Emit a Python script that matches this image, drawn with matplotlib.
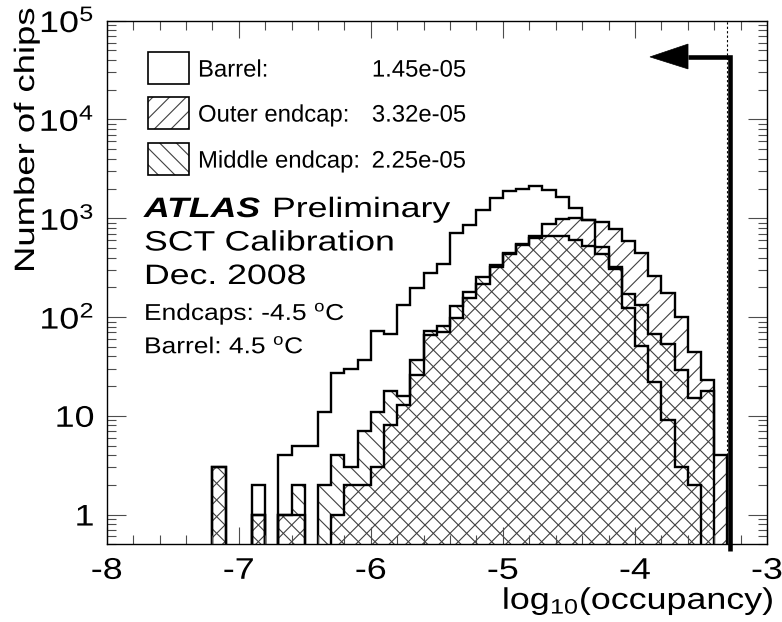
import numpy as np
import matplotlib
matplotlib.use("Agg")
import matplotlib.pyplot as plt
from matplotlib.patches import Rectangle, Polygon
from matplotlib.patheffects import AbstractPathEffect
from matplotlib.transforms import Affine2D
from matplotlib.ticker import FixedLocator, FixedFormatter, MultipleLocator, LogLocator, NullFormatter

plt.rcParams['font.family'] = ['Liberation Sans', 'DejaVu Sans']
plt.rcParams['mathtext.fontset'] = 'custom'
plt.rcParams['mathtext.rm'] = 'Liberation Sans'
plt.rcParams['mathtext.it'] = 'Liberation Sans:italic'
plt.rcParams['mathtext.bf'] = 'Liberation Sans:bold'
plt.rcParams['hatch.linewidth'] = 0.8

# ---- data: chips per 0.1-wide bin of log10(occupancy), from -8 to -3 ----
bin_edges = np.round(np.arange(-8.0, -3.0 + 1e-9, 0.1), 2)

barrel_counts = [0, 0, 0, 0, 0, 0, 0, 0, 0, 0,
                 0, 2, 0, 4, 5, 5, 11, 27, 30, 37,
                 72, 68, 131, 198, 281, 341, 712, 864, 1225, 1607,
                 1875, 1983, 2140, 1950, 1650, 1280, 950, 515, 320, 124,
                 51, 22, 9, 3, 2, 0, 0, 0, 0, 0]

outer_counts = [0, 0, 0, 0, 0, 0, 0, 0, 3, 0,
                0, 1, 0, 1, 1, 0, 0, 1, 2, 2,
                3, 8, 13, 26, 65, 70, 98, 157, 214, 320,
                430, 540, 630, 883, 986, 1009, 970, 919, 770, 586,
                447, 260, 176, 99, 44, 23, 4, 0, 0, 0]

middle_counts = [0, 0, 0, 0, 0, 0, 0, 0, 3, 0,
                 0, 1, 0, 1, 2, 0, 2, 4, 3, 7,
                 11, 18, 16, 37, 72, 81, 129, 179, 256, 334,
                 447, 555, 660, 658, 658, 609, 521, 430, 303, 170,
                 132, 68, 53, 29, 15, 18, 0, 0, 0, 0]

series_labels = ["Barrel:", "Outer endcap:", "Middle endcap:"]
mean_occupancy = ["1.45e-05", "3.32e-05", "2.25e-05"]
series_hatches = [None, "//", "\\\\"]

x_ticks = [-8, -7, -6, -5, -4, -3]
x_tick_labels = ["-8", "-7", "-6", "-5", "-4", "-3"]
y_ticks = [1, 10, 100, 1000, 10000, 100000]
y_tick_labels = ["1", "10", "$10^{2}$", "$10^{3}$", "$10^{4}$", "$10^{5}$"]

occupancy_limit = np.log10(5e-4)   # SCT specification


class Widen(AbstractPathEffect):
    """Draw glyphs stretched along the text direction."""
    def __init__(self, sx, anchor="left"):
        super().__init__()
        self.sx = sx
        self.anchor = anchor

    def draw_path(self, renderer, gc, tpath, affine, rgbFace=None):
        ext = tpath.get_extents()
        if self.anchor == "left":
            cx = 0.0
        elif self.anchor == "right":
            cx = ext.x1
        else:
            cx = 0.5 * (ext.x0 + ext.x1)
        stretch = Affine2D().translate(-cx, 0).scale(self.sx, 1.0).translate(cx, 0)
        renderer.draw_path(gc, tpath, stretch + affine, rgbFace)


W, H = 782, 622
fig = plt.figure(figsize=(W / 100, H / 100), dpi=100)


def fx(px):
    return px / W


def fy(py):
    return 1 - py / H


ax_left, ax_right, ax_top, ax_bottom = 106.7, 767.0, 20.7, 544.3
ax = fig.add_axes([fx(ax_left), fy(ax_bottom), (ax_right - ax_left) / W, (ax_bottom - ax_top) / H])
ax.set_yscale("log")
ax.set_xlim(-8, -3)
ax.set_ylim(0.5, 1e5)

floor = 1e-3


def to_plot(vals):
    v = np.asarray(vals, dtype=float)
    return np.where(v > 0, v, floor)


# hatched fills of the two endcap distributions
for counts, hatch in [(outer_counts, "//"), (middle_counts, "\\\\")]:
    ax.stairs(to_plot(counts), bin_edges, baseline=floor, fill=True,
              facecolor="none", edgecolor="0.25", hatch=hatch, linewidth=0)

# histogram outlines
for counts in [barrel_counts, outer_counts, middle_counts]:
    ax.stairs(to_plot(counts), bin_edges, baseline=floor, fill=False,
              edgecolor="black", linewidth=1.7)

# occupancy limit marker
ax.axvline(occupancy_limit, color="black", lw=0.8, ls=(0, (2, 2)))
arm_x = occupancy_limit + 0.022
arm_y = 4.3e4
head_base = -3.598
ax.plot([head_base, arm_x, arm_x], [arm_y, arm_y, 0.43], color="black", lw=3.3,
        solid_joinstyle="miter", solid_capstyle="butt", clip_on=False)
ax.add_patch(Polygon([[-3.886, arm_y], [head_base, 5.8e4], [head_base, 3.25e4]],
                     closed=True, facecolor="black", edgecolor="black", lw=0.5, clip_on=False))

# axes styling
for sp in ax.spines.values():
    sp.set_linewidth(1.0)
ax.xaxis.set_major_locator(FixedLocator(x_ticks))
ax.xaxis.set_major_formatter(FixedFormatter(x_tick_labels))
ax.xaxis.set_minor_locator(MultipleLocator(0.2))
ax.yaxis.set_major_locator(FixedLocator(y_ticks))
ax.yaxis.set_major_formatter(FixedFormatter(y_tick_labels))
ax.yaxis.set_minor_locator(LogLocator(base=10, subs=np.arange(2, 10), numticks=20))
ax.yaxis.set_minor_formatter(NullFormatter())
ax.tick_params(which="both", direction="in", top=True, right=True, color="0.3", width=0.8)
ax.tick_params(axis="x", which="major", length=12.2, pad=9.0, labelsize=21.5)
ax.tick_params(axis="y", which="major", length=13.7, pad=9.0, labelsize=21.5)
ax.tick_params(which="minor", length=6.5)

for lab in ax.get_xticklabels():
    lab.set_path_effects([Widen(1.2, "center")])
for lab in ax.get_yticklabels():
    lab.set_path_effects([Widen(1.2, "right")])

# axis titles
fig.text(fx(34), fy(8), "Number of chips", rotation=90, rotation_mode="anchor",
         ha="right", va="baseline", fontsize=20.2, path_effects=[Widen(1.3, "right")])
fig.text(fx(774), fy(609), "log$_{10}$(occupancy)", ha="right", va="baseline",
         fontsize=21.5, path_effects=[Widen(1.2, "right")])

# legend
box_x, box_w, box_h = 148, 41, 32
box_tops = [52, 97, 143]
for label, mean, hatch, top in zip(series_labels, mean_occupancy, series_hatches, box_tops):
    if hatch:
        fig.add_artist(Rectangle((fx(box_x), fy(top + box_h)), box_w / W, box_h / H,
                                 transform=fig.transFigure, facecolor="none",
                                 edgecolor="0.25", hatch=hatch, lw=0))
    fig.add_artist(Rectangle((fx(box_x), fy(top + box_h)), box_w / W, box_h / H,
                             transform=fig.transFigure, facecolor="none",
                             edgecolor="black", lw=1.2))
    base = top + box_h / 2 + 8.6
    fig.text(fx(198), fy(base), label, ha="left", va="baseline", fontsize=17.2,
             path_effects=[Widen(1.0, "left")])
    fig.text(fx(466), fy(base), mean, ha="right", va="baseline", fontsize=17.2,
             path_effects=[Widen(1.0, "right")])

# labels
fig.text(fx(144), fy(217), "ATLAS", fontsize=20.2, fontweight="bold", fontstyle="italic",
         ha="left", va="baseline", path_effects=[Widen(1.27, "left")])
fig.text(fx(272), fy(217), "Preliminary", fontsize=20.2, ha="left", va="baseline",
         path_effects=[Widen(1.27, "left")])
fig.text(fx(144), fy(250.5), "SCT Calibration", fontsize=20.2, ha="left", va="baseline",
         path_effects=[Widen(1.27, "left")])
fig.text(fx(144), fy(284), "Dec. 2008", fontsize=20.2, ha="left", va="baseline",
         path_effects=[Widen(1.27, "left")])
fig.text(fx(144), fy(320), "Endcaps: -4.5 $^{\\mathrm{o}}$C", fontsize=16.5, ha="left", va="baseline",
         path_effects=[Widen(1.15, "left")])
fig.text(fx(144), fy(353.3), "Barrel: 4.5 $^{\\mathrm{o}}$C", fontsize=16.5, ha="left", va="baseline",
         path_effects=[Widen(1.15, "left")])

fig.savefig("out.png", dpi=100)
